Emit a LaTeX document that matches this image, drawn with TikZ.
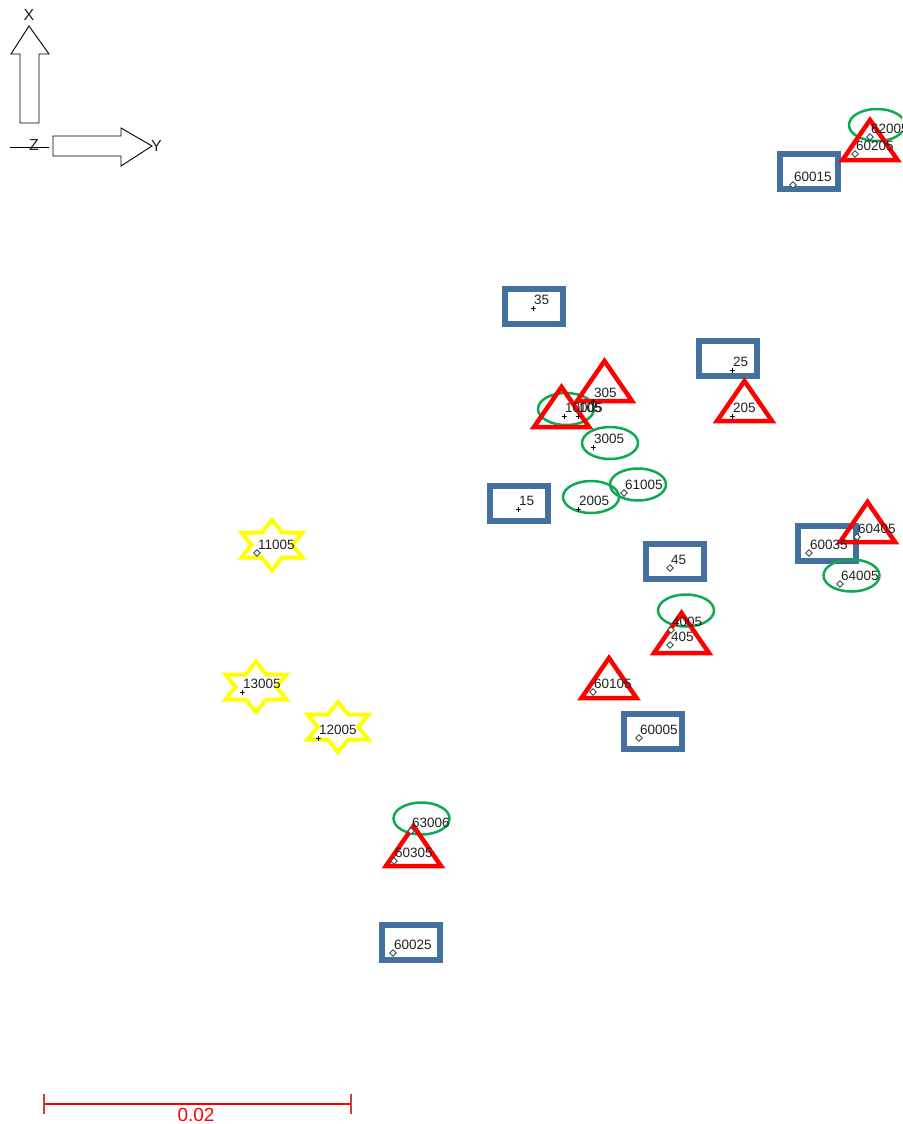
\documentclass[tikz,border=0pt]{standalone}
\usepackage{fontspec}
\setmainfont{Liberation Sans}
\usetikzlibrary{shapes.geometric}
\definecolor{boxblue}{HTML}{44709D}
\definecolor{trired}{HTML}{FF0000}
\definecolor{ellgreen}{HTML}{0DAA4F}
\definecolor{staryellow}{HTML}{FFFF00}
\definecolor{markgray}{HTML}{2F4F4F}
\definecolor{labelgray}{HTML}{222222}
\definecolor{tickred}{HTML}{C84040}
\newcommand\redtri[2]{\draw[redtri] (#1-27.5,#2) -- (#1,#2-40) -- (#1+27.5,#2) -- cycle;}
\newcommand\hexstar[2]{\draw[ystar, shift={(#1,#2)}, xscale=1.41] (90:25) -- (60:14.43) -- (30:25) -- (0:14.43) -- (-30:25) -- (-60:14.43) -- (-90:25) -- (-120:14.43) -- (-150:25) -- (180:14.43) -- (150:25) -- (120:14.43) -- cycle;}
\newcommand\datum[5]{\node[#5] (m#1) at (#3,#4) {}; \node[lbl] (l#1) at (#3+1,#4-4) {#2};}
\begin{document}
\begin{tikzpicture}[x=1pt,y=-1pt,
  bluebox/.style={draw=boxblue, line width=6pt, rectangle, minimum width=58pt, minimum height=35pt, inner sep=0},
  gell/.style={draw=ellgreen, line width=2.5pt, ellipse, minimum width=56pt, minimum height=32pt, inner sep=0},
  redtri/.style={draw=trired, line width=4.5pt},
  ystar/.style={draw=staryellow, line width=4pt},
  lbl/.style={anchor=base west, inner sep=0, font=\fontsize{13.5}{15}\selectfont, text=labelgray},
  dmark/.style={diamond, draw=markgray, fill=white, line width=0.9pt, minimum size=7pt, inner sep=0},
  pmark/.style={inner sep=0, minimum size=5pt, path picture={\draw[black, line width=0.9pt] (path picture bounding box.north) -- (path picture bounding box.south) (path picture bounding box.west) -- (path picture bounding box.east);}},
  arrowshape/.style={draw=black, line width=0.9pt, fill=white},
  axlbl/.style={font=\fontsize{16}{18}\selectfont, text=labelgray, inner sep=0}
]
\useasboundingbox (0,0) rectangle (902,1124);
\clip (0,0) rectangle (902,1124);

% axis icon
\draw[arrowshape] (20,123) -- (20,54) -- (11,54) -- (29,26) -- (49,54) -- (39,54) -- (39,123) -- cycle;
\node[axlbl] (ax) at (29,15) {X};
\draw[arrowshape] (53,136) -- (121,136) -- (121,128) -- (152,146) -- (121,166) -- (121,156) -- (53,156) -- cycle;
\node[axlbl, anchor=west] (ay) at (151,146) {Y};
\node[axlbl] (az) at (34,145) {Z};
\coordinate (zl) at (10,147);
\coordinate (zr) at (49,147);
\draw[black, line width=0.8pt] (zl) -- (zr);

% blue boxes
\node[bluebox] (b60015) at (808.5,171.5) {};
\node[bluebox] (b35) at (533.5,306) {};
\node[bluebox] (b25) at (727.5,358) {};
\node[bluebox] (b15) at (519,503.5) {};
\node[bluebox] (b45) at (675,561.5) {};
\node[bluebox] (b60035) at (827,543) {};
\node[bluebox] (b60005) at (653,731) {};
\node[bluebox] (b60025) at (410.5,942.5) {};

% green ellipses
\node[gell] (e62005) at (877,125) {};
\node[gell] (e10005) at (566,409) {};
\node[gell] (e3005) at (610,443) {};
\node[gell] (e61005) at (638,484.5) {};
\node[gell] (e2005) at (591,497) {};
\node[gell] (e64005) at (851.5,575.5) {};
\node[gell] (e4005) at (686,610.5) {};
\node[gell] (e63006) at (421.5,818.5) {};

% red triangles
\redtri{870}{160}
\redtri{604.5}{401}
\redtri{561.5}{427}
\redtri{744.5}{421}
\redtri{867.5}{542}
\redtri{681.5}{653}
\redtri{609}{698}
\redtri{413.5}{866}

% yellow stars
\hexstar{272}{545}
\hexstar{256}{687}
\hexstar{338}{727}

% markers and labels
\datum{60015}{60015}{793}{185}{dmark}
\datum{60205}{60205}{855}{154}{dmark}
\datum{62005}{62005}{870}{137}{dmark}
\datum{35}{35}{533}{308}{pmark}
\datum{25}{25}{732}{370}{pmark}
\datum{205}{205}{732}{416}{pmark}
\datum{305}{305}{593}{401}{pmark}
\datum{10005}{10005}{564}{416}{pmark}
\datum{105}{105}{578}{416}{pmark}
\datum{3005}{3005}{593}{447}{pmark}
\datum{61005}{61005}{624}{493}{dmark}
\datum{2005}{2005}{578}{509}{pmark}
\datum{15}{15}{518}{509}{pmark}
\datum{45}{45}{670}{568}{dmark}
\datum{60035}{60035}{809}{553}{dmark}
\datum{60405}{60405}{857}{537}{dmark}
\datum{64005}{64005}{840}{584}{dmark}
\datum{4005}{4005}{671}{630}{dmark}
\datum{405}{405}{670}{645}{dmark}
\datum{60105}{60105}{593}{692}{dmark}
\datum{60005}{60005}{639}{738}{dmark}
\datum{11005}{11005}{257}{553}{dmark}
\datum{13005}{13005}{242}{692}{pmark}
\datum{12005}{12005}{318}{738}{pmark}
\datum{63006}{63006}{411}{831}{dmark}
\datum{60305}{60305}{394}{861}{dmark}
\datum{60025}{60025}{393}{953}{dmark}

% scale bar
\coordinate (s1) at (44,1104);
\coordinate (s2) at (351,1104);
\draw[trired, line width=1.2pt] (s1) -- (s2);
\draw[tickred, line width=1.2pt] (44,1094) -- (44,1114) (351,1094) -- (351,1114);
\node[font=\fontsize{19}{21}\selectfont, text=trired, inner sep=0] (sl) at (196,1114.5) {0.02};
\end{tikzpicture}
\end{document}
